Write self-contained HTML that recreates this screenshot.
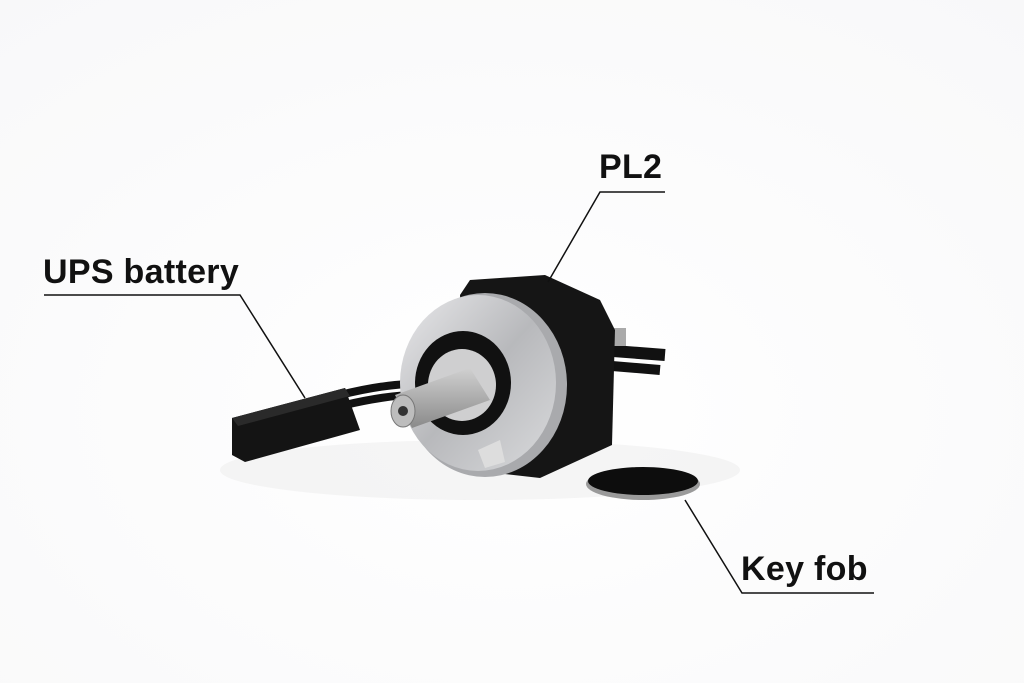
<!DOCTYPE html>
<html><head><meta charset="utf-8"><style>
html,body{margin:0;padding:0;background:#fff;}
body{width:1024px;height:683px;overflow:hidden;position:relative;font-family:"Liberation Sans",sans-serif;}
.lbl{position:absolute;font-weight:bold;font-size:34px;color:#111;letter-spacing:0.3px;white-space:nowrap;line-height:1;}
</style></head><body>
<svg width="1024" height="683" style="position:absolute;left:0;top:0">
<defs>
<radialGradient id="bg" cx="0.5" cy="0.6" r="0.8"><stop offset="0" stop-color="#ffffff"/><stop offset="1" stop-color="#f8f8f9"/></radialGradient>
<linearGradient id="al" x1="0" y1="0" x2="1" y2="1"><stop offset="0" stop-color="#e8e8ea"/><stop offset="0.5" stop-color="#b8b9bc"/><stop offset="1" stop-color="#d9dadc"/></linearGradient>
<linearGradient id="sh" x1="0" y1="0" x2="0" y2="1"><stop offset="0" stop-color="#d0d0d0"/><stop offset="1" stop-color="#8a8a8a"/></linearGradient>
</defs>
<rect width="1024" height="683" fill="url(#bg)"/>
<ellipse cx="480" cy="470" rx="260" ry="30" fill="#ececec" opacity="0.5"/>
<path d="M340 395 Q400 380 440 385" stroke="#111" stroke-width="8" fill="none"/>
<path d="M345 405 Q400 392 440 395" stroke="#111" stroke-width="8" fill="none"/>
<path d="M600 350 L665 355" stroke="#111" stroke-width="12"/>
<path d="M600 365 L660 370" stroke="#111" stroke-width="10"/>
<rect x="612" y="328" width="14" height="18" fill="#aaa"/>
<polygon points="232,418 345,388 360,430 245,462 232,455" fill="#141414"/>
<polygon points="232,418 345,388 350,396 238,426" fill="#2a2a2a"/>
<path d="M460 295 L470 280 L545 275 L600 300 L615 330 L612 445 L540 478 L470 470 Z" fill="#151515"/>
<ellipse cx="485" cy="385" rx="82" ry="92" fill="#a9aaad"/>
<ellipse cx="478" cy="383" rx="78" ry="88" fill="url(#al)"/>
<ellipse cx="463" cy="383" rx="48" ry="52" fill="#111"/>
<ellipse cx="462" cy="385" rx="34" ry="36" fill="#cfcfd0"/>
<polygon points="395,395 470,368 490,400 412,428" fill="url(#sh)"/>
<ellipse cx="403" cy="411" rx="12" ry="16" fill="#bdbdbd" stroke="#777"/>
<circle cx="403" cy="411" r="5" fill="#333"/>
<polygon points="478,450 500,440 505,462 485,468" fill="#ddd"/>
<ellipse cx="643" cy="484" rx="57" ry="16" fill="#9a9a9a"/>
<ellipse cx="643" cy="481" rx="55" ry="14" fill="#0d0d0d"/>
<g stroke="#111" stroke-width="1.5" fill="none">
<polyline points="665,192 600,192 548,282"/>
<polyline points="44,295 240,295 305,398"/>
<polyline points="874,593 742,593 685,500"/>
</g>
</svg>
<div class="lbl" style="left:599px;top:150px">PL2</div>
<div class="lbl" style="left:43px;top:255px">UPS battery</div>
<div class="lbl" style="left:741px;top:552px">Key fob</div>
</body></html>
